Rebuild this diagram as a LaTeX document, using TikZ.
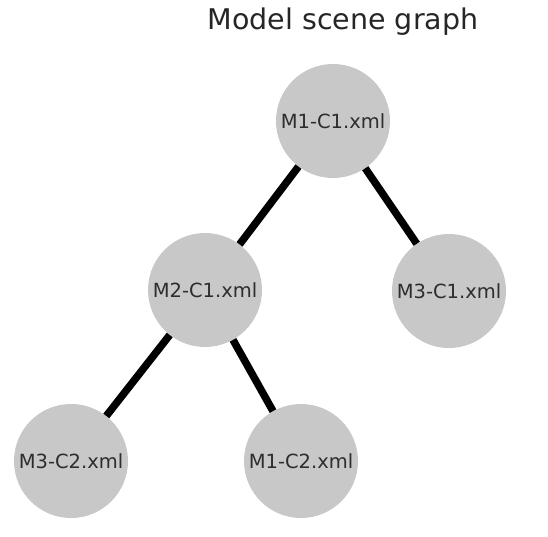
\documentclass[tikz,border=0pt]{standalone}
\usepackage{fontspec}
\setmainfont{DejaVu Sans}
\definecolor{nodegray}{RGB}{200,200,200}
\definecolor{labelgray}{RGB}{45,45,45}
\tikzset{
  scenenode/.style={circle, fill=nodegray, minimum size=114pt, inner sep=0pt,
    text=labelgray, font=\fontsize{19.5}{22}\selectfont},
  link/.style={line width=7.5pt, black},
}
\begin{document}
\begin{tikzpicture}[x=1pt, y=-1pt]
  \useasboundingbox (0,0) rectangle (548,537);
  \node[font=\fontsize{28.5}{32}\selectfont, text=black!85] (title) at (343,22) {Model scene graph};
  \node[scenenode] (m1c1) at (333,121) {M1-C1.xml};
  \node[scenenode] (m2c1) at (205,290) {M2-C1.xml};
  \node[scenenode] (m3c1) at (449,291) {M3-C1.xml};
  \node[scenenode] (m3c2) at (71,461) {M3-C2.xml};
  \node[scenenode] (m1c2) at (301,461) {M1-C2.xml};
  \draw[link] (m1c1) -- (m2c1);
  \draw[link] (m1c1) -- (m3c1);
  \draw[link] (m2c1) -- (m3c2);
  \draw[link] (m2c1) -- (m1c2);
\end{tikzpicture}
\end{document}
